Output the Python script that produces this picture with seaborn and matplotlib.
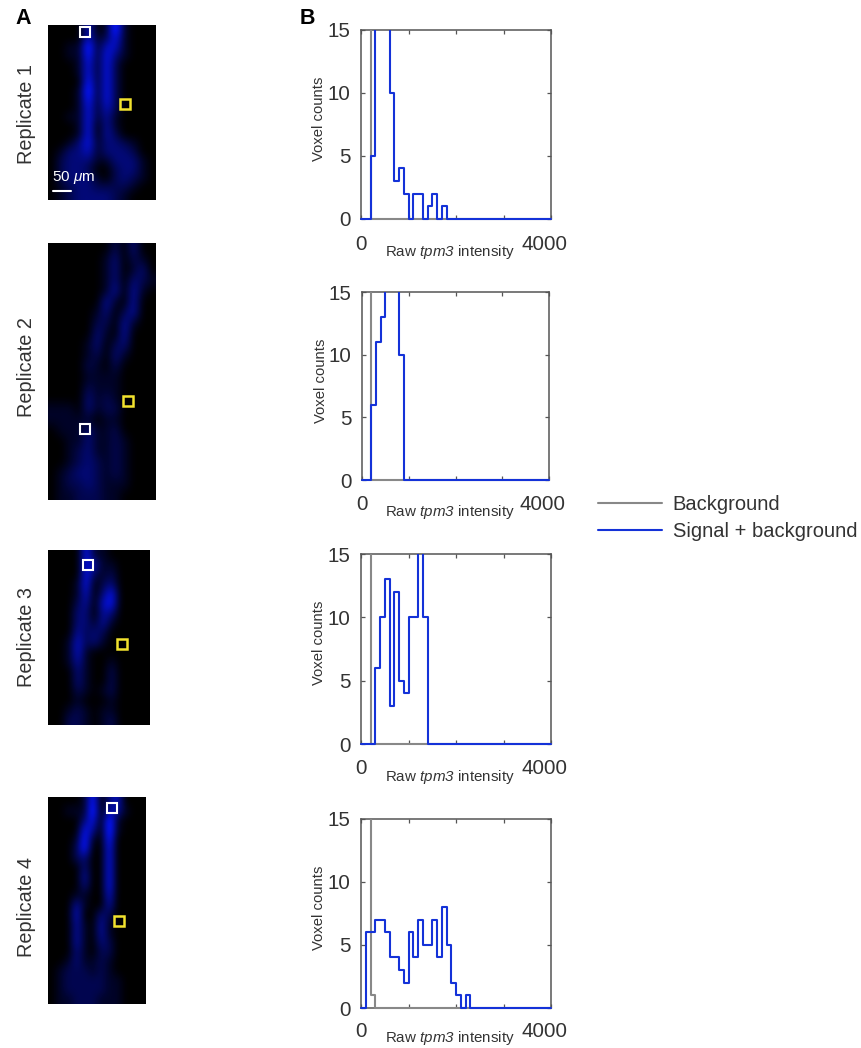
import numpy as np
import matplotlib
matplotlib.use("Agg")
import matplotlib.pyplot as plt
from matplotlib.colors import LinearSegmentedColormap
from matplotlib.lines import Line2D
from matplotlib.patches import Rectangle
from matplotlib.transforms import ScaledTranslation
import seaborn as sns

# Histogram bins are 100 wide, counts listed from 0 up, zeros after the list
bin_edges = list(range(0, 4100, 100))
# bins above 15 run off the top of the axes, true height is not readable
background_1 = [60, 60]
background_2 = [60, 60]
background_3 = [60, 60]
background_4 = [60, 60, 1]
signal_1 = [0, 0, 5, 20, 20, 20, 10, 3, 4, 2, 0, 2, 2, 0, 1, 2, 0, 1]
signal_2 = [0, 0, 6, 11, 13, 20, 20, 20, 10]
signal_3 = [0, 0, 0, 6, 10, 13, 3, 12, 5, 4, 10, 10, 20, 10]
signal_4 = [0, 6, 6, 7, 7, 6, 4, 4, 3, 2, 6, 4, 7, 5, 5, 7, 4, 8, 5, 2, 1, 0, 1]

backgrounds = [background_1, background_2, background_3, background_4]
signals = [signal_1, signal_2, signal_3, signal_4]
replicates = ["Replicate 1", "Replicate 2", "Replicate 3", "Replicate 4"]

# Micrographs, intensity by eye on a coarse grid (0 dark, 9 brightest)
image_1 = [
    [0, 0, 0, 0, 5, 0, 1, 8, 1, 0, 0, 0],
    [0, 0, 0, 0, 5, 1, 2, 6, 1, 0, 0, 0],
    [0, 0, 1, 1, 8, 1, 5, 5, 1, 0, 0, 0],
    [0, 0, 1, 1, 7, 1, 6, 3, 1, 0, 0, 0],
    [0, 0, 0, 1, 6, 1, 6, 2, 0, 0, 0, 0],
    [0, 0, 0, 1, 6, 1, 6, 2, 0, 0, 0, 0],
    [0, 0, 0, 0, 7, 1, 6, 2, 0, 0, 0, 0],
    [0, 0, 0, 1, 8, 1, 6, 2, 0, 0, 0, 0],
    [0, 0, 0, 1, 7, 1, 6, 2, 0, 0, 0, 0],
    [0, 0, 0, 1, 6, 1, 5, 2, 0, 0, 0, 0],
    [0, 0, 1, 1, 6, 1, 4, 1, 0, 0, 0, 0],
    [0, 0, 0, 1, 6, 0, 4, 1, 0, 0, 0, 0],
    [0, 0, 0, 1, 6, 0, 4, 2, 0, 0, 0, 0],
    [0, 0, 1, 3, 6, 1, 3, 3, 2, 1, 0, 0],
    [0, 1, 3, 3, 5, 1, 3, 3, 3, 2, 0, 0],
    [0, 2, 3, 3, 3, 1, 1, 3, 3, 3, 1, 0],
    [0, 2, 3, 3, 2, 0, 0, 2, 3, 3, 1, 0],
    [0, 2, 3, 3, 3, 1, 0, 2, 3, 2, 1, 0],
    [0, 1, 2, 3, 3, 2, 2, 2, 2, 1, 0, 0],
    [0, 1, 2, 3, 3, 3, 3, 2, 1, 0, 0, 0],
]
image_2 = [
    [0, 0, 0, 0, 0, 0, 0, 2, 0, 3, 0, 0],
    [0, 0, 0, 0, 0, 0, 1, 3, 0, 2, 1, 0],
    [0, 0, 0, 0, 0, 0, 1, 3, 0, 1, 3, 0],
    [0, 0, 0, 0, 0, 0, 1, 3, 0, 3, 2, 1],
    [0, 0, 0, 0, 0, 0, 1, 4, 0, 4, 1, 0],
    [0, 0, 0, 0, 0, 0, 4, 1, 0, 4, 0, 0],
    [0, 0, 0, 0, 0, 1, 3, 0, 2, 4, 0, 0],
    [0, 0, 0, 0, 0, 2, 2, 0, 4, 1, 0, 0],
    [0, 0, 0, 0, 0, 3, 1, 0, 4, 0, 0, 0],
    [0, 0, 0, 0, 1, 3, 0, 2, 3, 0, 0, 0],
    [0, 0, 0, 0, 1, 2, 0, 3, 1, 0, 0, 0],
    [0, 0, 0, 0, 2, 1, 0, 2, 0, 0, 0, 0],
    [0, 0, 0, 0, 1, 1, 1, 1, 0, 0, 0, 0],
    [0, 0, 0, 0, 2, 1, 1, 1, 0, 0, 0, 0],
    [0, 0, 0, 0, 3, 1, 2, 1, 0, 0, 0, 0],
    [1, 1, 1, 0, 3, 1, 2, 2, 0, 0, 0, 0],
    [1, 1, 1, 1, 1, 0, 1, 1, 0, 0, 0, 0],
    [0, 1, 1, 1, 3, 1, 1, 2, 0, 0, 0, 0],
    [0, 0, 1, 1, 3, 1, 1, 2, 1, 0, 0, 0],
    [0, 0, 1, 2, 3, 1, 1, 2, 1, 0, 0, 0],
    [0, 0, 1, 2, 3, 2, 1, 2, 1, 0, 0, 0],
    [0, 1, 2, 3, 3, 2, 1, 2, 1, 0, 0, 0],
    [0, 1, 2, 2, 3, 2, 1, 1, 1, 0, 0, 0],
    [0, 1, 1, 2, 2, 2, 1, 1, 0, 0, 0, 0],
]
image_3 = [
    [0, 0, 0, 0, 6, 1, 1, 0, 0, 0, 0, 0],
    [0, 0, 0, 0, 6, 4, 1, 1, 0, 0, 0, 0],
    [0, 0, 0, 0, 6, 2, 1, 2, 0, 0, 0, 0],
    [0, 0, 0, 1, 6, 0, 2, 3, 0, 0, 0, 0],
    [0, 0, 0, 1, 5, 0, 3, 6, 0, 0, 0, 0],
    [0, 0, 0, 2, 4, 0, 5, 6, 0, 0, 0, 0],
    [0, 0, 0, 3, 3, 0, 4, 3, 0, 0, 0, 0],
    [0, 0, 0, 3, 3, 1, 4, 1, 0, 0, 0, 0],
    [0, 0, 0, 4, 2, 3, 2, 0, 0, 0, 0, 0],
    [0, 0, 1, 5, 2, 3, 1, 0, 0, 0, 0, 0],
    [0, 0, 1, 5, 1, 0, 0, 0, 0, 0, 0, 0],
    [0, 0, 1, 4, 1, 0, 0, 1, 0, 0, 0, 0],
    [0, 0, 0, 3, 1, 0, 0, 2, 0, 0, 0, 0],
    [0, 0, 0, 3, 1, 0, 0, 2, 0, 0, 0, 0],
    [0, 0, 0, 2, 1, 0, 1, 2, 0, 0, 0, 0],
    [0, 0, 0, 1, 0, 0, 0, 1, 0, 0, 0, 0],
    [0, 0, 1, 2, 1, 0, 1, 1, 0, 0, 0, 0],
    [0, 0, 2, 2, 1, 0, 1, 2, 0, 0, 0, 0],
]
image_4 = [
    [0, 0, 0, 0, 1, 7, 0, 3, 5, 0, 0, 0],
    [0, 0, 1, 1, 1, 8, 0, 4, 4, 1, 0, 0],
    [0, 0, 0, 0, 3, 6, 0, 8, 1, 0, 0, 0],
    [0, 0, 0, 0, 6, 4, 0, 8, 1, 0, 0, 0],
    [0, 0, 0, 1, 7, 1, 0, 7, 0, 0, 0, 0],
    [0, 0, 0, 2, 7, 0, 0, 6, 0, 0, 0, 0],
    [0, 0, 0, 2, 3, 0, 0, 6, 0, 0, 0, 0],
    [0, 0, 0, 0, 3, 0, 0, 6, 0, 0, 0, 0],
    [0, 0, 0, 0, 4, 0, 0, 6, 0, 0, 0, 0],
    [0, 0, 0, 0, 3, 0, 0, 6, 0, 0, 0, 0],
    [0, 0, 0, 1, 1, 0, 0, 5, 0, 0, 0, 0],
    [0, 0, 0, 4, 1, 0, 0, 4, 0, 0, 0, 0],
    [0, 0, 0, 5, 0, 0, 3, 2, 0, 0, 0, 0],
    [0, 0, 0, 4, 1, 0, 4, 1, 0, 0, 0, 0],
    [0, 0, 0, 4, 1, 0, 4, 1, 0, 0, 0, 0],
    [0, 0, 0, 4, 1, 0, 3, 2, 0, 0, 0, 0],
    [0, 0, 0, 3, 1, 0, 2, 2, 0, 0, 0, 0],
    [0, 0, 1, 3, 1, 1, 2, 1, 0, 0, 0, 0],
    [0, 1, 2, 2, 2, 1, 2, 1, 0, 0, 0, 0],
    [0, 1, 2, 2, 2, 2, 2, 1, 1, 0, 0, 0],
    [0, 1, 2, 2, 2, 2, 2, 1, 1, 0, 0, 0],
    [0, 1, 1, 2, 2, 2, 1, 1, 1, 0, 0, 0],
]
images = [image_1, image_2, image_3, image_4]

# Layout in reference pixels: left, right, top, bottom
W, H = 861, 1048
image_boxes = [(48, 155, 25, 200), (48, 155, 243, 500), (48, 150, 550, 725), (48, 146, 797, 1004)]
hist_boxes = [(361, 551, 29.5, 219), (362, 549, 292.5, 480), (361, 551, 554, 744), (361, 551, 818.5, 1008)]
white_rois = [(85, 32), (85, 429), (88, 565), (112, 808)]
yellow_rois = [(125, 104), (128, 401), (122, 644), (119, 921)]
replicate_y = [114, 367, 637, 907]
xlabel_offset = [33, 32, 33, 30]
xtick_pad = [11.5, 10.5, 10.5, 10]

GREY = "#888888"
BLUE = "#1432d8"
TEXT = "#333333"
SPINE = "#555555"

sns.set_style("ticks")
plt.rcParams["font.family"] = ["Liberation Sans", "DejaVu Sans"]
plt.rcParams["mathtext.fontset"] = "custom"
plt.rcParams["mathtext.rm"] = "Liberation Sans"
plt.rcParams["mathtext.it"] = "Liberation Sans:italic"
# \mathit sets digits upright, cal keeps the 3 of tpm3 italic
plt.rcParams["mathtext.cal"] = "Liberation Sans:italic"

blues = LinearSegmentedColormap.from_list(
    "scan", [(0, "#000000"), (0.6, "#0410d8"), (1, "#2a48ff")])


def px_axes(fig, box):
    left, right, top, bottom = box
    return fig.add_axes([left / W, 1 - bottom / H, (right - left) / W, (bottom - top) / H])


fig = plt.figure(figsize=(W / 100, H / 100), dpi=100)

for i in range(4):
    # micrograph panel, extent in reference pixels so the boxes sit easily
    box = image_boxes[i]
    ax = px_axes(fig, box)
    ax.imshow(images[i], cmap=blues, vmin=0, vmax=9, aspect="auto",
              interpolation="bicubic", extent=(box[0], box[1], box[3], box[2]))
    ax.axis("off")
    for centre, colour, width in [(white_rois[i], "white", 1.5), (yellow_rois[i], "#f2e22e", 1.8)]:
        ax.add_patch(Rectangle((centre[0] - 5, centre[1] - 5), 10, 10, fill=False,
                               edgecolor=colour, linewidth=width))
    if i == 0:
        ax.plot([53, 71], [191, 191], color="white", lw=1.5)
        ax.text(52, 186, r"50 $\mu$m", color="white", fontsize=11, ha="left", va="bottom")
    fig.text(26 / W, 1 - replicate_y[i] / H, replicates[i], rotation=90, fontsize=14.3,
             color=TEXT, ha="center", va="center")

    # histogram panel
    ax = px_axes(fig, hist_boxes[i])
    centres = [edge + 50 for edge in bin_edges[:-1]]
    for counts, colour in [(backgrounds[i], GREY), (signals[i], BLUE)]:
        full = np.zeros(len(centres))
        full[:len(counts)] = counts
        sns.histplot(x=centres, weights=full, bins=bin_edges, element="step", fill=False,
                     color=colour, linewidth=1.5, ax=ax, zorder=3)
        # keep the zero line whole, the axes would cut it in half
        line = ax.lines[-1]
        line.set_clip_path(Rectangle((-0.01, -0.01), 1.02, 1.01, transform=ax.transAxes))
    ax.set_xlim(0, 4000)
    ax.set_ylim(0, 15)
    ax.set_xticks([0, 1000, 2000, 3000, 4000], ["0", "", "", "", "4000"])
    ax.set_yticks([0, 5, 10, 15])
    ax.tick_params(axis="both", direction="in", length=3, width=0.9, color=SPINE,
                   labelcolor=TEXT, labelsize=14.8, top=True, right=True)
    ax.tick_params(axis="x", pad=xtick_pad[i])
    ax.tick_params(axis="y", pad=7.5)
    shift = ScaledTranslation(-6 / 100, 0, fig.dpi_scale_trans)
    last = ax.get_xticklabels()[-1]
    last.set_transform(last.get_transform() + shift)
    for spine in ax.spines.values():
        spine.set_visible(True)
        spine.set_color(SPINE)
        spine.set_linewidth(1.1)
    height = hist_boxes[i][3] - hist_boxes[i][2]
    ax.set_xlabel(r"Raw $\mathcal{tpm3}$ intensity", fontsize=10.9, color=TEXT, va="center")
    ax.xaxis.set_label_coords(0.468, -xlabel_offset[i] / height)
    ax.set_ylabel("Voxel counts", fontsize=10.7, color=TEXT, va="center")
    ax.yaxis.set_label_coords(-0.22, 0.53)

fig.text(15 / W, 1 - 19 / H, "A", fontsize=15.5, fontweight="bold", color="black", va="center")
fig.text(300 / W, 1 - 19 / H, "B", fontsize=15.5, fontweight="bold", color="black", va="center")

handles = [Line2D([], [], color=GREY, lw=1.5), Line2D([], [], color=BLUE, lw=1.5)]
fig.legend(handles, ["Background", "Signal + background"], loc="center left",
           bbox_to_anchor=(598 / W, 1 - 518 / H), frameon=False, fontsize=14.5,
           handlelength=3.2, handletextpad=0.5, labelspacing=0.36, borderpad=0,
           borderaxespad=0, labelcolor=TEXT)

fig.savefig("out.png", dpi=100)
